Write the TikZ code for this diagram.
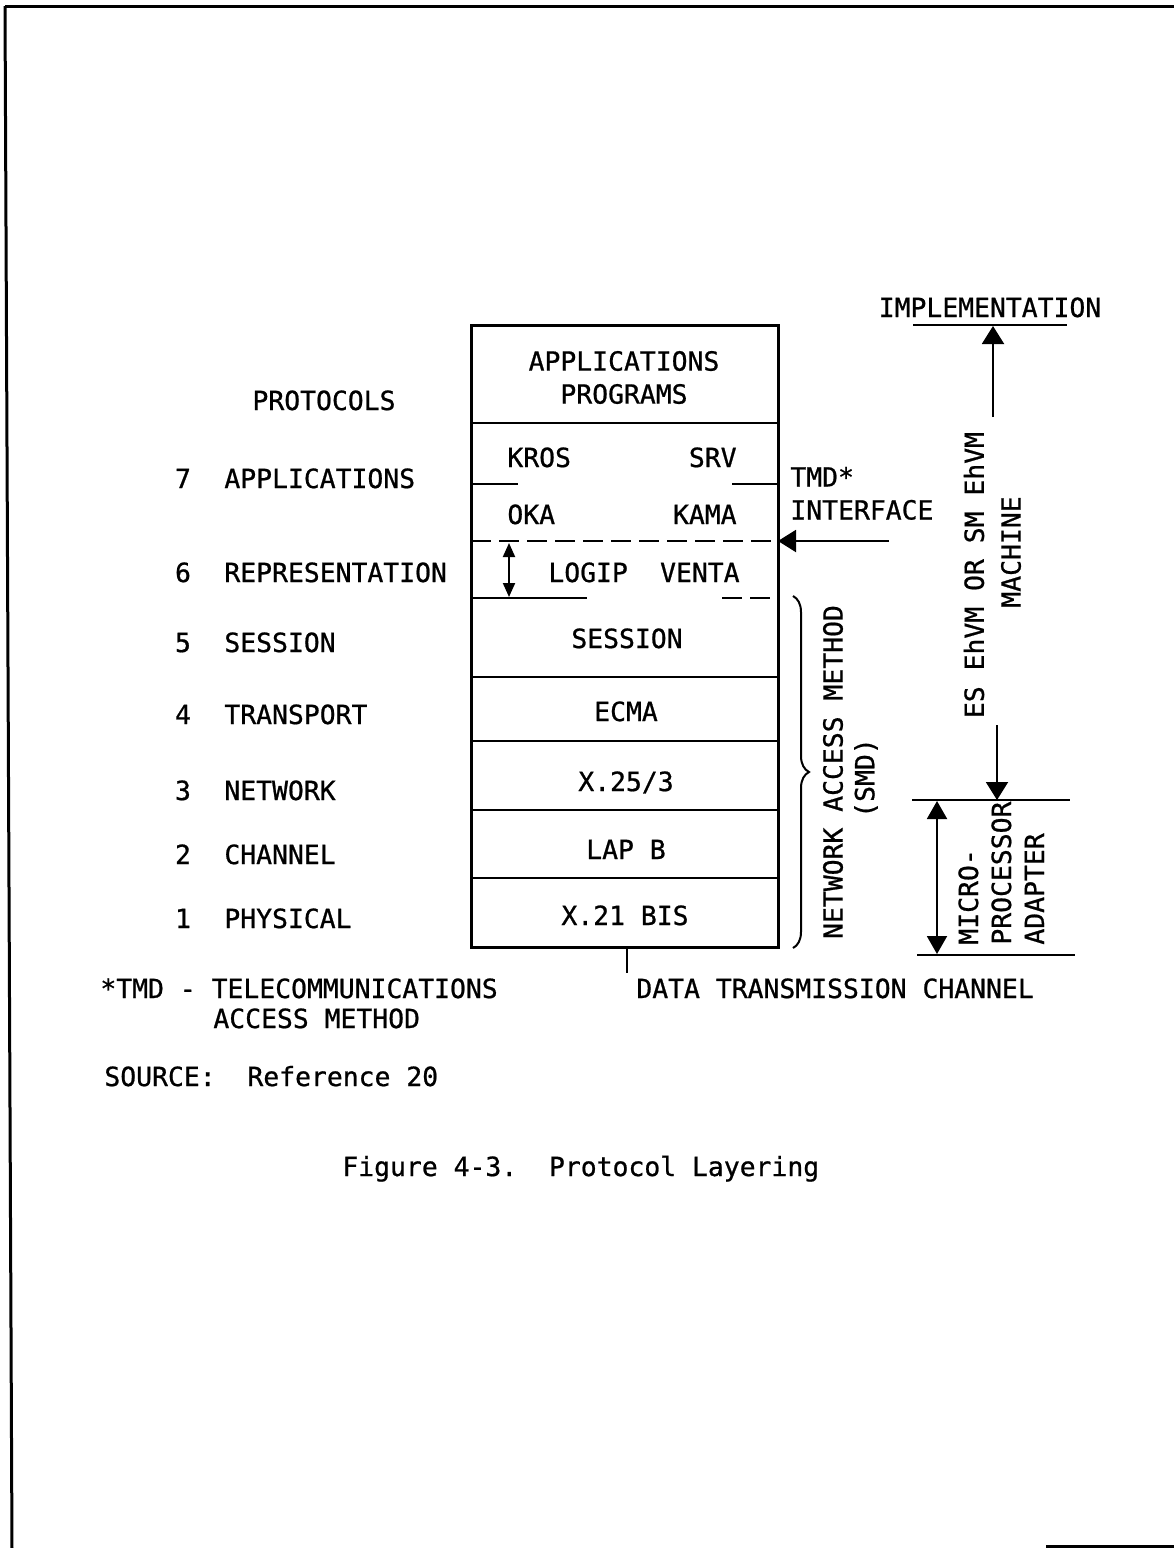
\documentclass[tikz,border=0pt]{standalone}
\usepackage{fontspec}
\newfontfamily\typewriter[FakeBold=0.8]{DejaVu Sans Mono}
\usetikzlibrary{arrows.meta,decorations.pathreplacing}
\tikzset{
  tag/.style={font=\typewriter\fontsize{13.2}{16.5}\selectfont, inner sep=0pt, anchor=base},
  tagleft/.style={tag, anchor=base west},
  tagright/.style={tag, anchor=base east},
  vtag/.style={tag, rotate=90, anchor=center},
  edge/.style={line width=1.5pt},
  rule/.style={line width=1.3pt},
  dashedrule/.style={line width=1.3pt, dash pattern=on 10pt off 4pt},
  arrow/.style={line width=1pt, -{Triangle[length=9pt,width=11pt]}},
  twoway/.style={line width=1pt, {Triangle[length=9pt,width=10pt]}-{Triangle[length=9pt,width=10pt]}},
  smalltwoway/.style={line width=1pt, {Triangle[length=7pt,width=6pt]}-{Triangle[length=7pt,width=6pt]}}
}

\begin{document}
\begin{tikzpicture}[x=0.5pt,y=-0.5pt]
  \useasboundingbox (0,0) rectangle (1174,1548);
  % page edge
  \draw[edge] (5,6) -- (1174,6);
  \draw[edge] (5,6) -- (12,1548);
  \draw[edge] (1046,1546) -- (1174,1546);

  % the layer stack
  \coordinate (nw) at (471,325);
  \coordinate (se) at (778,947);
  \draw[edge] (nw) rectangle (se);
  \foreach \y in {423,677,741,810,878}
    \draw[rule] (471,\y) -- (778,\y);
  \draw[rule] (471,484) -- (518,484);
  \draw[rule] (732,484) -- (778,484);
  \draw[dashedrule] (471,541) -- (778,541);
  \draw[rule] (471,598) -- (587,598);
  \draw[dashedrule] (722,598) -- (778,598);

  \node[tag,align=center,anchor=center] (progs) at (624,377.5) {APPLICATIONS\\PROGRAMS};
  \node[tagleft] (kros) at (507,467) {KROS};
  \node[tagright] (srv) at (737,467) {SRV};
  \node[tagleft] (oka) at (507,524) {OKA};
  \node[tagright] (kama) at (737,524) {KAMA};
  \node[tagleft] (logip) at (548,582) {LOGIP};
  \node[tagright] (venta) at (740,582) {VENTA};
  \node[tag] (session) at (627,648) {SESSION};
  \node[tag] (ecma) at (626,721) {ECMA};
  \node[tag] (x25) at (626,791) {X.25/3};
  \node[tag] (lapb) at (626,859) {LAP B};
  \node[tag] (x21) at (625,925) {X.21 BIS};

  \draw[smalltwoway] (509,543) -- (509,597);

  % protocol names on the left
  \node[tag] (protocols) at (324,410) {PROTOCOLS};
  \foreach \n/\name/\y in {7/APPLICATIONS/488, 6/REPRESENTATION/582, 5/SESSION/652,
      4/TRANSPORT/724, 3/NETWORK/800, 2/CHANNEL/864, 1/PHYSICAL/928} {
    \node[tag] (num\n) at (183,\y) {\n};
    \node[tagleft] (proto\n) at (224,\y) {\name};
  }

  % TMD interface
  \node[tag,align=left,anchor=north west] (tmd) at (790,466.5) {TMD*\\INTERFACE};
  \coordinate (tmdin) at (889,541);
  \draw[arrow] (tmdin) -- (tmdin -| se);

  % network access method
  \draw[line width=1pt,decorate,decoration={brace,amplitude=8pt}] (793,596) -- (793,948);
  \node[vtag] (nam) at (833,772) {NETWORK ACCESS METHOD};
  \node[vtag] (smd) at (866,778) {(SMD)};

  % implementation column
  \node[tag] (impl) at (990,317) {IMPLEMENTATION};
  \draw[line width=1pt] (913,325) -- (1067,325);
  \node[vtag] (vm) at (974,575) {ES EhVM OR SM EhVM};
  \node[vtag] (machine) at (1011,552) {MACHINE};
  \coordinate (upfoot) at (993,417);
  \coordinate (downtop) at (997,725);
  \draw[arrow] (upfoot) -- (993,326);
  \draw[rule] (912,800) -- (1070,800);
  \draw[rule] (917,955) -- (1075,955);
  \draw[arrow] (downtop) -- (997,800);
  \draw[twoway] (937,801) -- (937,954);
  \node[tag,align=left,rotate=90,anchor=north west] (mpa) at (958,945) {MICRO-\\PROCESSOR\\ADAPTER};

  % channel
  \coordinate (chan) at (627,973);
  \draw[line width=1pt] (627,947) -- (chan);
  \node[tagleft] (channel) at (636,998) {DATA TRANSMISSION CHANNEL};

  % notes
  \node[tagleft] (note) at (100,998) {*TMD - TELECOMMUNICATIONS};
  \node[tagleft] (note2) at (213,1028) {ACCESS METHOD};
  \node[tagleft] (source) at (104,1086) {SOURCE:\ \ Reference 20};
  \node[tagleft] (caption) at (342,1176) {Figure 4-3.\ \ Protocol Layering};
\end{tikzpicture}
\end{document}
